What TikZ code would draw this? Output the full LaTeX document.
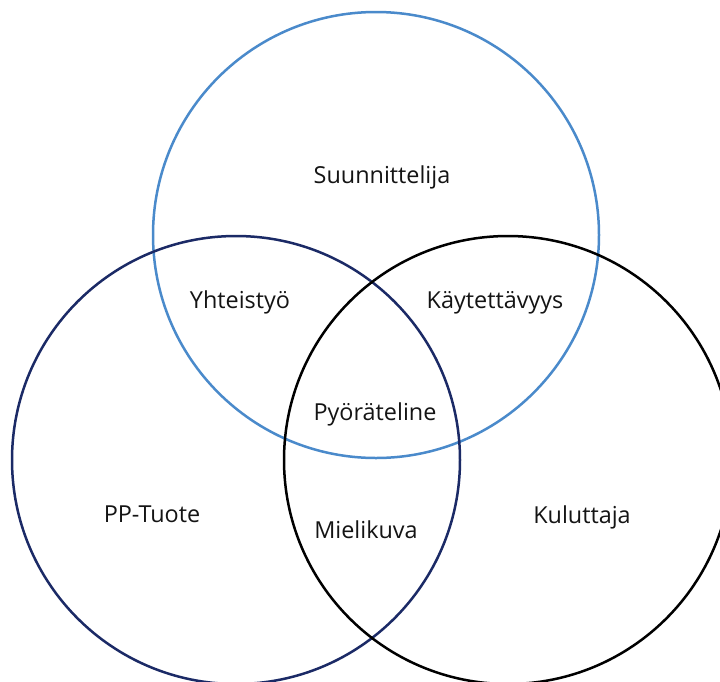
\documentclass[tikz,border=0pt]{standalone}
\usepackage{fontspec}
\setmainfont{Open Sans}
\definecolor{topblue}{HTML}{4A8ACB}
\definecolor{navy}{HTML}{1B2A66}
\definecolor{txt}{HTML}{141414}
\begin{document}
\begin{tikzpicture}[x=1pt,y=-1pt,
  ring/.style={line width=2.5pt},
  lbl/.style={anchor=base,inner sep=0pt,text=txt,font=\fontsize{23.4}{27}\selectfont}]
\useasboundingbox (0,0) rectangle (720,681);
\clip (0,0) rectangle (720,681);
\fill[white] (0,0) rectangle (720,681);
\draw[ring,topblue] (376,235) circle (223);
\draw[ring,navy] (236,460) circle (224);
\draw[ring,black] (508,460) circle (224);
\node[lbl] (s) at (382,183) {Suunnittelija};
\node[lbl] (y) at (240,308) {Yhteistyö};
\node[lbl] (k) at (495,308) {Käytettävyys};
\node[lbl] (p) at (375,420) {Pyöräteline};
\node[lbl] (pp) at (152,522) {PP-Tuote};
\node[lbl] (m) at (366,538) {Mielikuva};
\node[lbl] (ku) at (582,523) {Kuluttaja};
\end{tikzpicture}
\end{document}
